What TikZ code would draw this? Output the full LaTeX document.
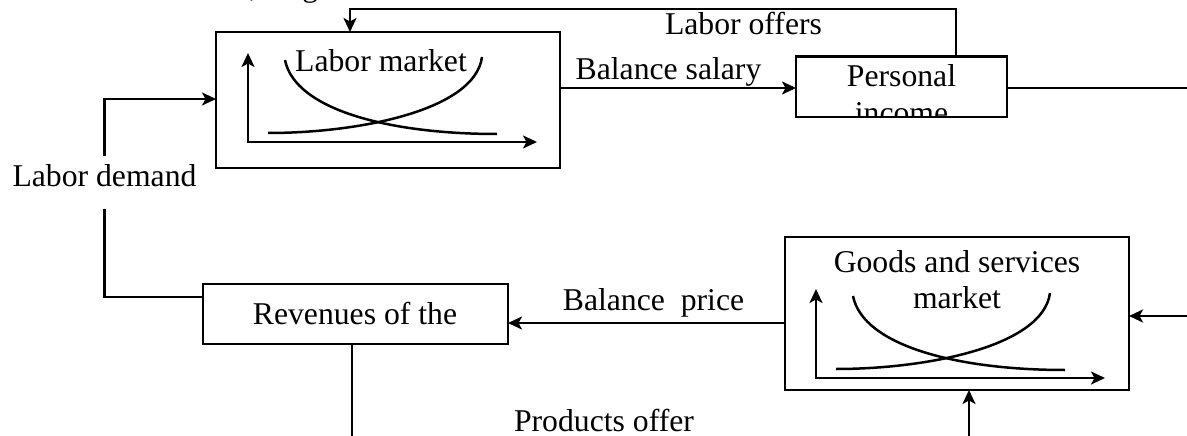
\documentclass[tikz,border=0pt]{standalone}
\usepackage{fontspec}
\setmainfont{Liberation Serif}
\usetikzlibrary{arrows.meta,calc}
\begin{document}
\begin{tikzpicture}[x=1pt,y=-1pt,
  box/.style={draw, line width=2.8pt, inner sep=0pt, outer sep=0pt},
  lbl/.style={font=\fontsize{31.7}{38}\selectfont, inner sep=0pt, anchor=base},
  wire/.style={line width=2.5pt},
  tip/.style={Stealth[length=14pt,width=13pt,inset=3.5pt]},
  arr/.style={wire, -{Stealth[length=14pt,width=13pt,inset=3.5pt]}},
  chart/.pic={
    % axes
    \draw[wire, {Stealth[length=14pt,width=13pt,inset=3.5pt]}-{Stealth[length=14pt,width=13pt,inset=3.5pt]}]
      (0,0) -- (0,89) -- (289,89);
    % falling and rising curves
    \draw[wire] (37,7) .. controls (47,57) and (142,81) .. (249,81);
    \draw[wire] (20,80) .. controls (112,80) and (227,57) .. (234,4);
  }]
\useasboundingbox (0,0) rectangle (1187,436);
\clip (0,0) rectangle (1187,436);

% boxes
\node[box, minimum width=344pt, minimum height=136pt] (labor) at (388,100) {};
\node[box, minimum width=211pt, minimum height=60.5pt] (personal) at (901.5,86.75) {};
\node[box, minimum width=305pt, minimum height=60pt] (rev) at (355.5,314) {};
\node[box, minimum width=344pt, minimum height=153pt] (goods) at (957,313.5) {};

% charts inside the market boxes
\pic at (248,53) {chart};
\pic at (816,289) {chart};

% box texts
\node[lbl] (tlabor) at (381,72) {Labor market};
\node[lbl] (tpers) at (901.5,87) {Personal};
\begin{scope}
  \clip (personal.north west) rectangle (personal.south east);
  \node[lbl] (tinc) at (901.5,124) {income};
\end{scope}
\node[lbl] (trev) at (355,324) {Revenues of the};
\node[lbl] (tgoods) at (957,272) {Goods and services};
\node[lbl] (tgoods2) at (957,308) {market};

% free labels
\node[lbl] (ttop) at (247,-3) {Salaries, wages};
\node[lbl] (toffer) at (743.5,35) {Labor offers};
\node[lbl] (tsal) at (668.5,80) {Balance salary};
\node[lbl] (tprice) at (653.5,310) {Balance~ price};
\node[lbl] (tprod) at (604,431) {Products offer};
\node[lbl] (ldem) at (104.5,186) {Labor demand};

% connector end points at the picture edges
\coordinate (fbR) at (956,9);
\coordinate (fbL) at (350,9);
\coordinate (outR) at (1187,88);
\coordinate (inR) at (1187,316);
\coordinate (inB) at (969,436);
\coordinate (outB) at (352,436);
\coordinate (bpIn) at ([yshift=-9pt]rev.east);

% connectors
\draw[arr] (labor.east |- outR) -- (personal.west |- outR);
\draw[wire] (personal.east |- outR) -- (outR);
\draw[arr] (personal.north -| fbR) -- (fbR) -- (fbL) -- (labor.north -| fbL);
\draw[arr] (goods.west |- bpIn) -- (bpIn);
\draw[arr] (inR) -- (goods.east |- inR);
\draw[arr] (inB) -- (inB |- goods.south);
\draw[wire] (outB |- rev.south) -- (outB);
\draw[wire] ([yshift=17pt]rev.west) -| ([yshift=-22pt]ldem.south);
\draw[arr] ([yshift=7.5pt]ldem.north) |- ([yshift=1pt]labor.west);
\end{tikzpicture}
\end{document}
